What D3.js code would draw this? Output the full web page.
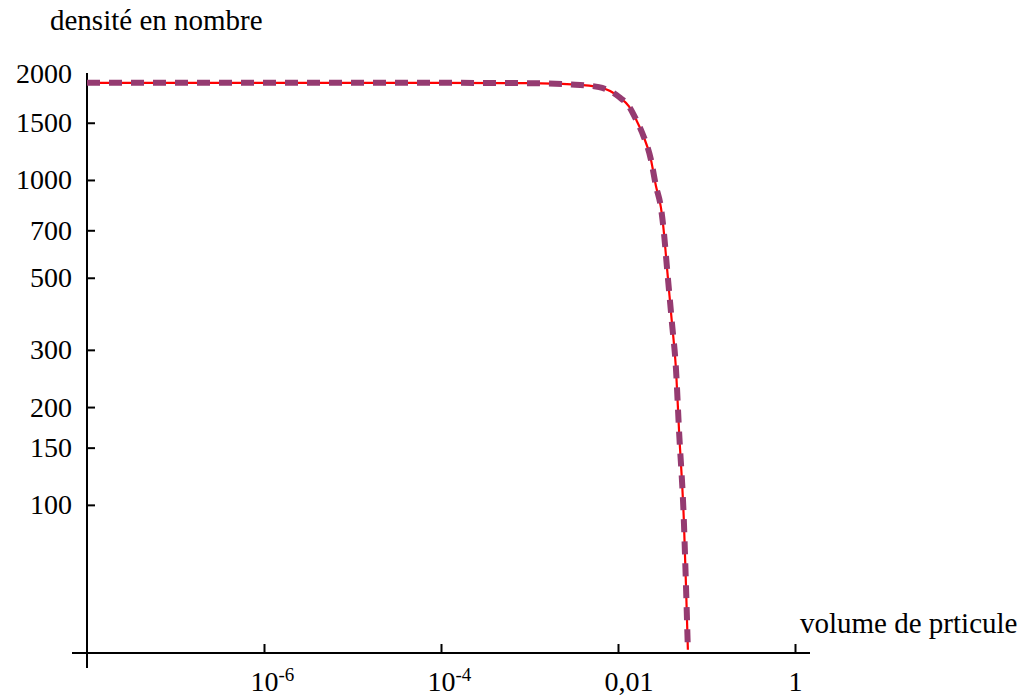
<!DOCTYPE html>
<html>
<head>
<meta charset="utf-8">
<script src="https://cdn.jsdelivr.net/npm/d3@7"></script>
<style>
  html, body { margin: 0; padding: 0; background: #fff; }
  svg { display: block; }
  text { font-family: "Liberation Serif", "Times New Roman", serif; fill: #000; }
</style>
</head>
<body>
<svg id="chart" width="1030" height="699"></svg>
<script>
// particle volume (x) vs number density (y)
const volume  = [1e-8, 1e-6, 1e-4, 1e-3, 0.003, 0.0061, 0.0103, 0.0133, 0.016, 0.0187, 0.0236,
                 0.0268, 0.0306, 0.033, 0.0357, 0.0407, 0.0452, 0.0489, 0.0556, 0.0585, 0.0616];
const density = [1990, 1990, 1990, 1986, 1968, 1931, 1800, 1685, 1535, 1400, 1152,
                 960, 820, 690, 540, 363, 262, 170, 88, 57.5, 35.8];

const yTicks = [100, 150, 200, 300, 500, 700, 1000, 1500, 2000];
const xTicks = [1e-6, 1e-4, 1e-2, 1];
const xTickBase = ['10', '10', '0,01', '1'];
const xTickExp  = ['-6', '-4', '', ''];

let svg = d3.select('#chart');
let x = d3.scaleLog().domain([1e-8, 1]).range([87, 795]);
let y = d3.scaleLog().domain([35, 2134]).range([653, 73]);
let pts = volume.map((v, i) => [v, density[i]]);

svg.append('rect').attr('width', 1030).attr('height', 699).attr('fill', '#fff');

// y axis
let gy = svg.append('g')
  .attr('transform', `translate(${x(1e-8)},0)`)
  .call(d3.axisLeft(y).tickValues(yTicks).tickFormat(d3.format('d'))
    .tickSizeInner(-8).tickSizeOuter(0).tickPadding(15));
gy.select('.domain').remove();
gy.selectAll('.tick line').attr('stroke', '#000').attr('stroke-width', 2);
gy.selectAll('.tick text').attr('font-size', 28).attr('font-family', null);
// top label sits a little above its tick in the original
gy.selectAll('.tick text').filter(d => d === 2000).attr('dy', '0.0em');

// x axis
let gx = svg.append('g')
  .attr('transform', `translate(0,${y(35)})`)
  .call(d3.axisBottom(x).tickValues(xTicks).tickSizeInner(-9).tickSizeOuter(0).tickPadding(18));
gx.select('.domain').remove();
gx.selectAll('.tick line').attr('stroke', '#000').attr('stroke-width', 2);
gx.selectAll('.tick text').each(function(d, i) {
  let t = d3.select(this).text('').attr('font-size', 28).attr('font-family', null);
  t.attr('text-anchor', xTickBase[i].length > 1 ? 'start' : 'middle')
   .attr('x', xTickBase[i].length > 1 ? -14 : 0);
  t.append('tspan').text(xTickBase[i]);
  if (xTickExp[i]) {
    t.append('tspan').attr('dy', -10).attr('font-size', 19).text(xTickExp[i]);
  }
});

// axis lines
svg.append('line').attr('x1', x(1e-8)).attr('x2', x(1e-8)).attr('y1', 73).attr('y2', 668)
  .attr('stroke', '#000').attr('stroke-width', 2);
svg.append('line').attr('x1', 72).attr('x2', 810).attr('y1', y(35)).attr('y2', y(35))
  .attr('stroke', '#000').attr('stroke-width', 2);

// curves
svg.append('clipPath').attr('id', 'clip')
  .append('rect').attr('x', x(1e-8)).attr('y', 40).attr('width', 730).attr('height', y(35) - 40);

let line = d3.line().x(p => x(p[0])).y(p => y(p[1])).curve(d3.curveMonotoneX);
let g = svg.append('g').attr('clip-path', 'url(#clip)');
g.append('path').attr('d', line(pts)).attr('fill', 'none')
  .attr('stroke', '#ff0000').attr('stroke-width', 2.2);
g.append('path').attr('d', line(pts)).attr('fill', 'none')
  .attr('stroke', '#953b71').attr('stroke-width', 6).attr('stroke-dasharray', '13,9');

// axis titles
svg.append('text').attr('x', 50).attr('y', 30).attr('font-size', 29).text('densité en nombre');
svg.append('text').attr('x', 800).attr('y', 633).attr('font-size', 29).text('volume de prticule');
</script>
</body>
</html>
